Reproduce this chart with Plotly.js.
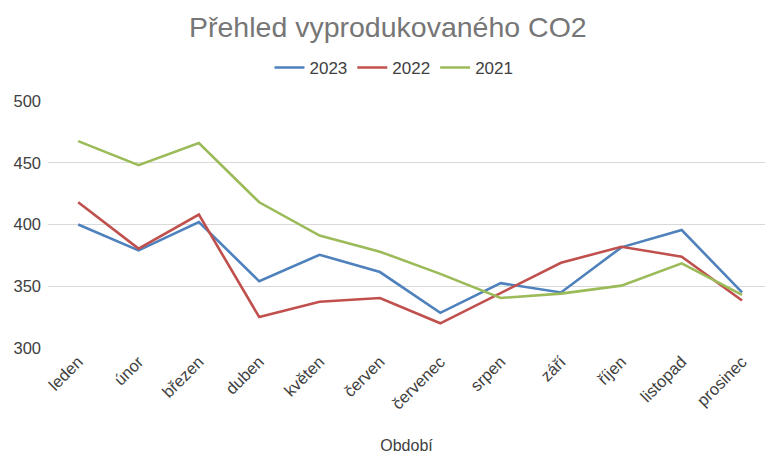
<!DOCTYPE html>
<html>
<head>
<meta charset="utf-8">
<script src="https://cdn.plot.ly/plotly-3.0.1.min.js"></script>
<style>html,body{margin:0;padding:0;background:#fff;}#chart{width:765px;height:454px;}</style>
</head>
<body>
<div id="chart"></div>
<script>
const months = ["leden","únor","březen","duben","květen","červen","červenec","srpen","září","říjen","listopad","prosinec"];
const seriesNames = ["2023","2022","2021"];
const values2023 = [400, 379, 402, 354, 375.5, 361.5, 328.5, 352.5, 345, 381.5, 395.5, 345];
const values2022 = [418, 380.5, 408, 325, 337.5, 340.5, 320, 344.5, 369, 382, 374, 338.5];
const values2021 = [467.5, 448, 466, 418, 391, 378, 360, 340.5, 344, 350.5, 368.5, 343];
const colors = ["#4F81BD", "#C0504D", "#9BBB59"];
const allValues = [values2023, values2022, values2021];

const FONT = '"Liberation Sans", Arial, sans-serif';
const traces = allValues.map((v, i) => ({
  x: months, y: v, name: seriesNames[i], type: 'scatter', mode: 'lines',
  line: {color: colors[i], width: 2.6}
}));

const layout = {
  width: 765, height: 454,
  margin: {l: 48, r: 0, t: 101, b: 106},
  paper_bgcolor: '#fff', plot_bgcolor: '#fff',
  font: {family: FONT, color: '#404040'},
  title: {text: 'Přehled vyprodukovaného CO2', font: {size: 28.5, color: '#767676', family: FONT},
          xref: 'container', x: 0.507, xanchor: 'center', yref: 'container', y: 1 - 27/454, yanchor: 'middle'},
  showlegend: true,
  legend: {orientation: 'h', xref: 'container', x: 0.515, xanchor: 'center', yref: 'container', y: 1 - 68/454, yanchor: 'middle',
           font: {size: 17, color: '#404040'}, traceorder: 'normal'},
  xaxis: {type: 'category', range: [-0.5, 11.38], showgrid: false, zeroline: false, showline: false,
          tickangle: -45, tickfont: {size: 16.5, color: '#404040'}, ticks: '',
          title: {text: 'Období', font: {size: 16, color: '#404040'}, standoff: 28}},
  yaxis: {range: [300, 500], dtick: 50, showgrid: true, gridcolor: '#D9D9D9', gridwidth: 1.3, zeroline: false, showline: false,
          tickfont: {size: 16.5, color: '#404040'}, ticks: '', ticklabelstandoff: 6}
};
Plotly.newPlot('chart', traces, layout, {displayModeBar: false, staticPlot: true});
</script>
</body>
</html>
